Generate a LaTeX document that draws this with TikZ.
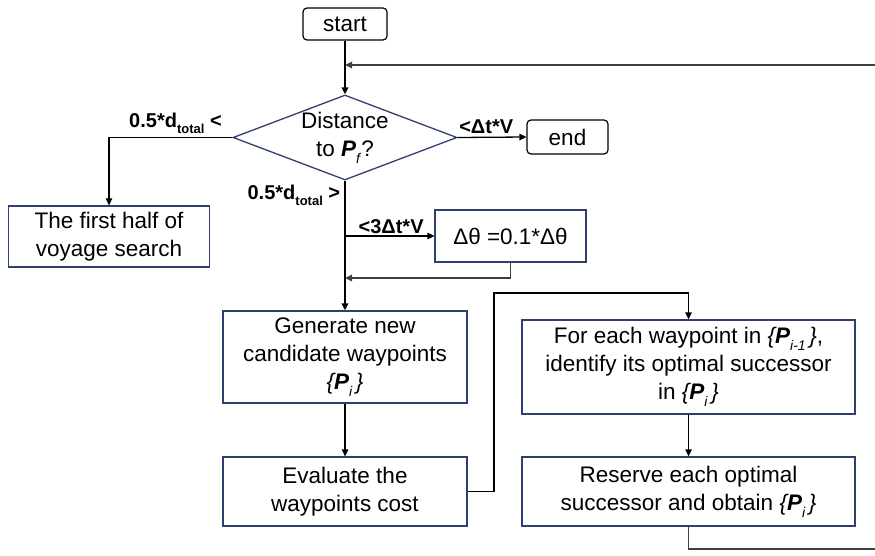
\documentclass[tikz,border=0pt]{standalone}
\usepackage{fontspec}
\setmainfont{Liberation Sans}
\usetikzlibrary{shapes.geometric,arrows.meta}

\definecolor{boxblue}{HTML}{2F4070}
\definecolor{loopgray}{HTML}{404040}

% small lowered subscript in text size units
\newcommand\lowsub[2][14]{\raisebox{-0.32em}{\fontsize{#1}{#1}\selectfont #2}}
\newcommand\setP[1]{\textit{\{\textbf{P}\lowsub{#1}\,\}}}

\begin{document}
\begin{tikzpicture}[x=1pt,y=-1pt,
  txt/.style={font=\fontsize{22.5}{28}\selectfont, align=center, inner sep=0pt},
  procbox/.style={txt, draw=boxblue, line width=1.3pt, rectangle},
  termbox/.style={txt, draw=black, line width=1.2pt, rectangle, rounded corners=4pt},
  decbox/.style={txt, draw=boxblue, line width=1.3pt, diamond, aspect=2.635,
    minimum width=224pt, minimum height=85pt},
  lbl/.style={font=\fontsize{20}{23}\selectfont\bfseries, inner sep=0pt},
  arr/.style={-{Triangle[length=7pt,width=6.5pt]}, line width=1.3pt, black},
  mainarr/.style={arr, line width=1.8pt},
  looparr/.style={arr, loopgray, line width=1.6pt}]

\useasboundingbox (0,0) rectangle (875,556);

% terminals and decision
\node[termbox, minimum width=84pt, minimum height=32pt] (start) at (345,24) {start};
\node[decbox] (dec) at (345,137.5) {Distance\\to \textbf{\textit{P}}\lowsub{\textit{f}}?};
\node[termbox, minimum width=81pt, minimum height=34pt] (end) at (567.5,137) {end};

% process boxes
\node[procbox, minimum width=201pt, minimum height=61pt] (half) at (109,236.5)
  {The first half of\\voyage search};
\node[procbox, minimum width=151pt, minimum height=52pt] (dtheta) at (510.5,236)
  {Δθ =0.1*Δθ};
\node[procbox, minimum width=244pt, minimum height=92pt] (gen) at (345,357)
  {Generate new\\candidate waypoints\\\setP{i}};
\node[procbox, minimum width=244pt, minimum height=69pt] (eval) at (345,491.5)
  {Evaluate the\\waypoints cost};
\node[procbox, minimum width=333pt, minimum height=94pt] (each) at (688.5,367)
  {For each waypoint in \setP{i-1},\\identify its optimal successor\\in \setP{i}};
\node[procbox, minimum width=333pt, minimum height=69pt] (keep) at (688.5,491.5)
  {Reserve each optimal\\successor and obtain \setP{i}};

% helper points
\coordinate (loopin) at (345,65);
\coordinate (loopbot) at (879,549);
\coordinate (looptop) at (879,65);
\coordinate (branch) at (345,236);
\coordinate (rejoin) at (345,278);
\coordinate (hop) at (494,293);

% connectors
\draw[mainarr] (start) -- (dec);
\draw[looparr] (keep.south) |- (loopbot) -- (looptop) -- (loopin);
\draw[arr] (dec.east) -- (end.west)
  node[lbl, pos=0.0, anchor=south west, xshift=1pt, yshift=3pt] {<Δt*V};
\draw[arr] (dec.west) -| (half.north)
  node[lbl, pos=0.0, anchor=south east, xshift=-10pt, yshift=3pt]
  {0.5*d\lowsub[13]{total} <};
\draw[mainarr] (dec.south) -- (gen.north)
  node[lbl, pos=0.0, anchor=north east, xshift=-4pt, yshift=-3pt]
  {0.5*d\lowsub[13]{total} >};
\draw[arr] (branch) -- (dtheta.west)
  node[lbl, pos=0.0, anchor=south west, xshift=13pt, yshift=2pt] {<3Δt*V};
\draw[arr, loopgray] (dtheta.south) |- (rejoin);
\draw[arr] (gen) -- (eval);
\draw[arr] (eval.east) -| (hop) -| (each.north);
\draw[arr] (each) -- (keep);

\end{tikzpicture}
\end{document}
